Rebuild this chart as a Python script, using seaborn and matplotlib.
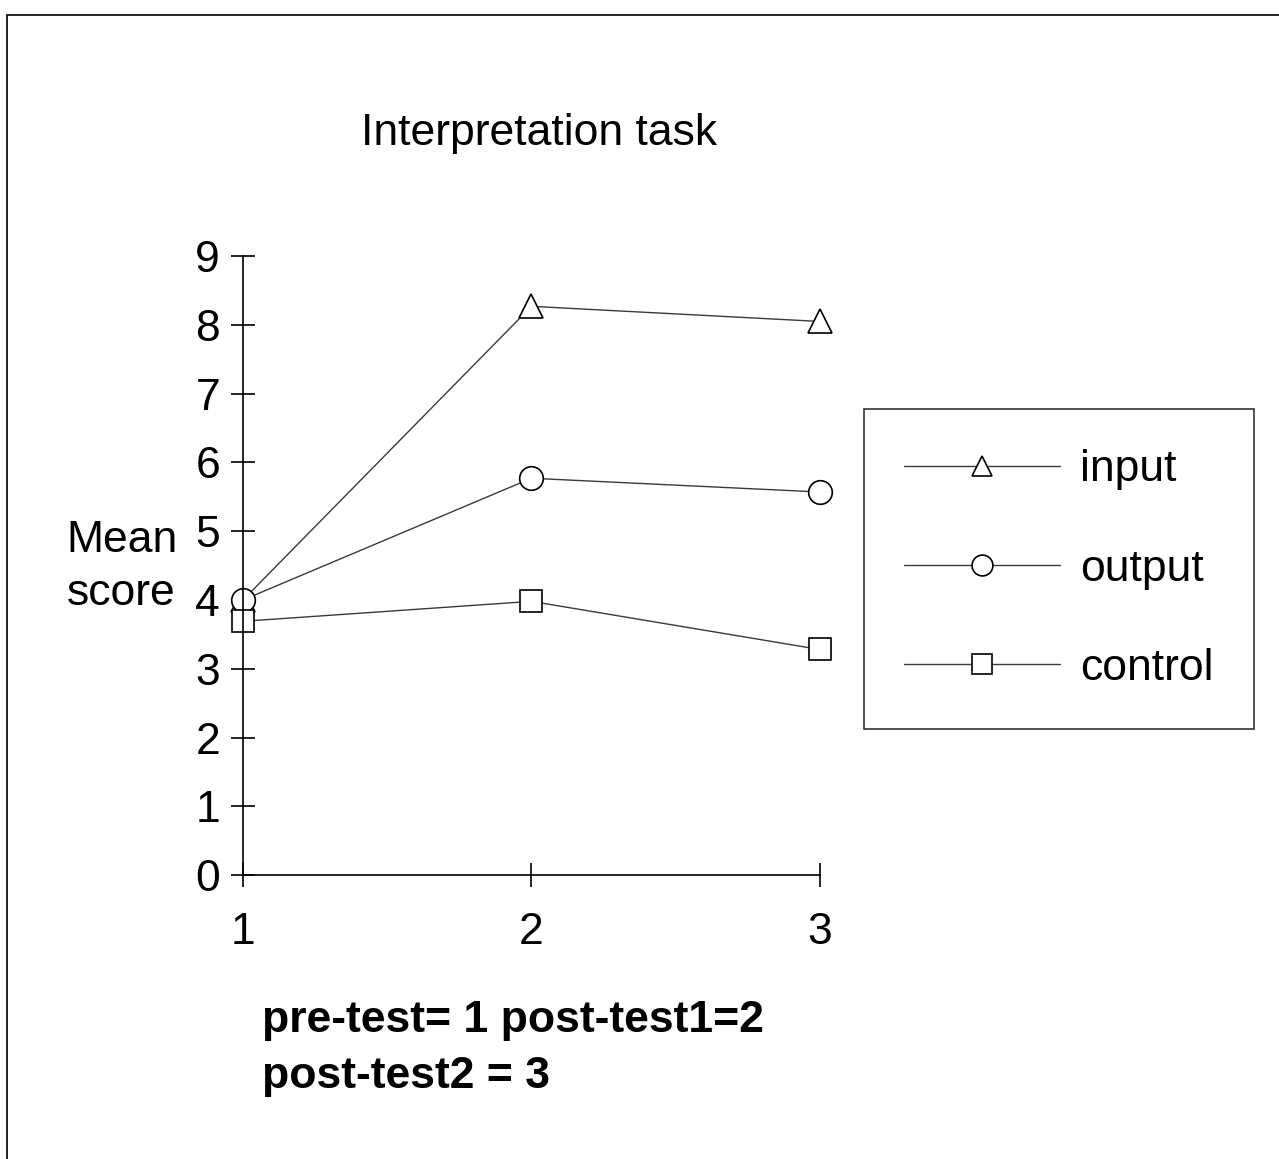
import matplotlib
matplotlib.use("Agg")
import matplotlib.pyplot as plt
import seaborn as sns
import pandas as pd
from matplotlib.lines import Line2D
from matplotlib.patches import Rectangle

# Data
tests = [1, 2, 3]
input_scores = [4.0, 8.27, 8.05]
output_scores = [4.0, 5.77, 5.57]
control_scores = [3.69, 3.98, 3.28]
groups = ["input", "output", "control"]

df = pd.DataFrame({
    "test": tests * 3,
    "score": input_scores + output_scores + control_scores,
    "group": [g for g in groups for _ in tests],
})

sns.set_style("white")
plt.rcParams["font.family"] = ["Liberation Sans", "DejaVu Sans"]
plt.rcParams["text.color"] = "black"

fig = plt.figure(figsize=(12.79, 11.59), dpi=100)
ax = fig.add_axes([0.19, 0.245, 0.451, 0.534])

markers = {"input": "^", "output": "o", "control": "s"}
msize = {"input": 17, "output": 17, "control": 16}
sns.lineplot(data=df, x="test", y="score", style="group", markers=markers,
             dashes=False, color="#3a3a3a", linewidth=1.0, markersize=16,
             markerfacecolor="white", markeredgecolor="black", markeredgewidth=1.2,
             legend=False, ax=ax)
for ln, g in zip(ax.lines, groups):
    ln.set_clip_on(False)
    ln.set_markersize(msize[g])

ax.set_xlim(1, 3)
ax.set_ylim(0, 9)
ax.set_xticks(tests)
ax.set_yticks(range(0, 10))
ax.tick_params(axis="both", which="major", bottom=True, left=True,
               direction="inout", length=17, width=1.2, labelsize=32,
               colors="black", labelcolor="black")
ax.tick_params(axis="y", pad=8)
ax.tick_params(axis="x", pad=18)
for s in ["top", "right"]:
    ax.spines[s].set_visible(False)
for s in ["left", "bottom"]:
    ax.spines[s].set_color("black")
    ax.spines[s].set_linewidth(1.2)
ax.set_xlabel("")
ax.set_ylabel("")

fig.text(0.095, 0.511, "Mean\nscore", fontsize=32, ha="center", va="center",
         linespacing=1.38, color="black")
fig.text(0.4215, 0.885, "Interpretation task", fontsize=32, ha="center",
         va="center", color="black")
fig.text(0.205, 0.0955, "pre-test= 1 post-test1=2\npost-test2 = 3", fontsize=32,
         fontweight="bold", ha="left", va="center", linespacing=1.45,
         color="black")

# Legend
handles = [Line2D([0], [0], color="#3a3a3a", linewidth=1.0, marker=markers[g],
                  markersize=15, markerfacecolor="white", markeredgecolor="black",
                  markeredgewidth=1.2) for g in groups]
leg = fig.legend(handles, groups, loc="center", bbox_to_anchor=(0.828, 0.509),
                 fontsize=32, frameon=True, fancybox=False, edgecolor="black",
                 handlelength=3.5, handletextpad=0.45, labelspacing=1.31,
                 borderpad=0.9, borderaxespad=0)
leg.get_frame().set_linewidth(1.2)
for t in leg.get_texts():
    t.set_color("black")

# Outer frame
fig.patches.append(Rectangle((0.0055, -0.05), 1.2, 1.037, transform=fig.transFigure,
                             fill=False, edgecolor="black", linewidth=1.2))

fig.savefig("out.png", dpi=100, facecolor="white")
